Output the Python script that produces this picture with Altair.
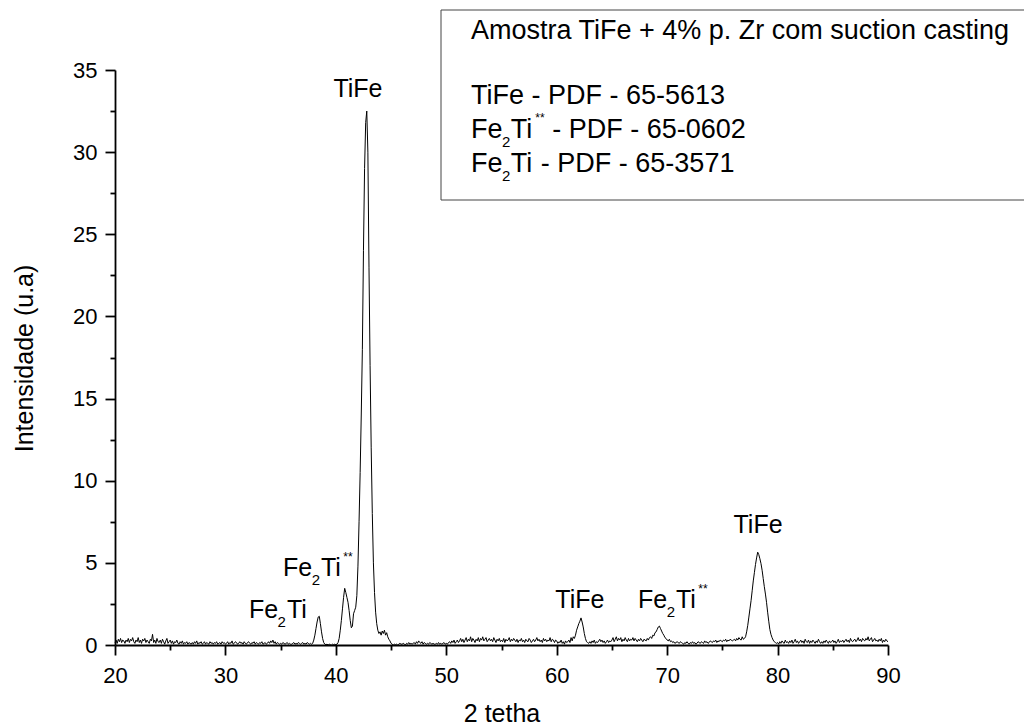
import altair as alt
import numpy as np
import pandas as pd

# ---------------- data ----------------
X_START = 20.0
X_STEP = 0.1
intensity = [
    0.15, 0.30, 0.10, 0.35, 0.20, 0.40, 0.15, 0.30, 0.25, 0.10,  # 20
    0.30, 0.20, 0.40, 0.15, 0.35, 0.25, 0.45, 0.20, 0.10, 0.30,  # 21
    0.20, 0.45, 0.15, 0.30, 0.10, 0.35, 0.25, 0.40, 0.15, 0.30,  # 22
    0.20, 0.10, 0.35, 0.25, 0.65, 0.15, 0.30, 0.10, 0.40, 0.20,  # 23
    0.15, 0.30, 0.10, 0.35, 0.20, 0.05, 0.25, 0.40, 0.10, 0.20,  # 24
    0.30, 0.10, 0.25, 0.05, 0.20, 0.15, 0.30, 0.10, 0.05, 0.20,  # 25
    0.10, 0.25, 0.05, 0.15, 0.10, 0.20, 0.05, 0.15, 0.10, 0.05,  # 26
    0.15, 0.05, 0.20, 0.10, 0.25, 0.05, 0.15, 0.10, 0.20, 0.05,  # 27
    0.10, 0.20, 0.05, 0.15, 0.10, 0.05, 0.20, 0.10, 0.15, 0.05,  # 28
    0.15, 0.10, 0.20, 0.05, 0.10, 0.15, 0.05, 0.20, 0.10, 0.15,  # 29
    0.05, 0.10, 0.20, 0.05, 0.15, 0.10, 0.25, 0.05, 0.10, 0.20,  # 30
    0.15, 0.05, 0.10, 0.20, 0.10, 0.15, 0.05, 0.20, 0.10, 0.05,  # 31
    0.15, 0.20, 0.10, 0.05, 0.15, 0.10, 0.20, 0.05, 0.15, 0.10,  # 32
    0.05, 0.15, 0.10, 0.20, 0.05, 0.10, 0.15, 0.05, 0.10, 0.20,  # 33
    0.10, 0.25, 0.15, 0.30, 0.10, 0.20, 0.05, 0.15, 0.10, 0.05,  # 34
    0.10, 0.05, 0.15, 0.10, 0.05, 0.10, 0.15, 0.05, 0.10, 0.05,  # 35
    0.05, 0.10, 0.15, 0.05, 0.10, 0.05, 0.15, 0.10, 0.05, 0.10,  # 36
    0.15, 0.05, 0.10, 0.05, 0.15, 0.10, 0.05, 0.10, 0.05, 0.10,  # 37
    0.30, 0.60, 1.00, 1.40, 1.70, 1.75, 1.30, 0.80, 0.40, 0.15,  # 38
    0.05, 0.02, 0.05, 0.00, 0.05, 0.02, 0.00, 0.05, 0.02, 0.05,  # 39
    0.02, 0.05, 0.15, 0.40, 0.90, 1.50, 2.20, 2.90, 3.45, 3.20,  # 40
    2.90, 2.60, 2.10, 1.50, 1.05, 1.15, 1.90, 2.10, 2.30, 3.00,  # 41
    4.80, 7.50, 10.5, 14.0, 18.0, 24.0, 29.0, 31.8, 32.5, 30.0,  # 42
    23.0, 17.0, 12.0, 8.00, 5.00, 3.20, 2.00, 1.30, 0.90, 0.70,  # 43
    0.80, 0.60, 0.85, 0.70, 0.90, 0.60, 0.75, 0.50, 0.35, 0.25,  # 44
    0.10, 0.05, 0.00, 0.05, 0.02, 0.05, 0.00, 0.05, 0.10, 0.05,  # 45
    0.05, 0.10, 0.05, 0.00, 0.10, 0.05, 0.15, 0.05, 0.10, 0.05,  # 46
    0.10, 0.15, 0.05, 0.20, 0.10, 0.25, 0.15, 0.10, 0.20, 0.05,  # 47
    0.15, 0.10, 0.05, 0.10, 0.05, 0.15, 0.10, 0.05, 0.10, 0.05,  # 48
    0.05, 0.10, 0.05, 0.15, 0.05, 0.10, 0.05, 0.10, 0.15, 0.05,  # 49
    0.10, 0.05, 0.15, 0.20, 0.10, 0.25, 0.15, 0.30, 0.10, 0.20,  # 50
    0.30, 0.15, 0.25, 0.40, 0.20, 0.35, 0.15, 0.30, 0.45, 0.20,  # 51
    0.35, 0.25, 0.50, 0.20, 0.40, 0.30, 0.15, 0.35, 0.25, 0.45,  # 52
    0.20, 0.40, 0.30, 0.50, 0.25, 0.35, 0.45, 0.20, 0.30, 0.40,  # 53
    0.25, 0.35, 0.20, 0.45, 0.30, 0.15, 0.35, 0.25, 0.40, 0.20,  # 54
    0.30, 0.20, 0.40, 0.15, 0.35, 0.25, 0.30, 0.45, 0.20, 0.35,  # 55
    0.25, 0.40, 0.30, 0.20, 0.35, 0.15, 0.30, 0.25, 0.40, 0.20,  # 56
    0.30, 0.15, 0.35, 0.25, 0.20, 0.40, 0.30, 0.15, 0.25, 0.35,  # 57
    0.20, 0.30, 0.45, 0.25, 0.35, 0.20, 0.30, 0.15, 0.40, 0.25,  # 58
    0.35, 0.20, 0.30, 0.25, 0.45, 0.20, 0.35, 0.30, 0.15, 0.30,  # 59
    0.25, 0.10, 0.20, 0.15, 0.30, 0.10, 0.20, 0.05, 0.25, 0.15,  # 60
    0.20, 0.30, 0.15, 0.45, 0.25, 0.50, 0.40, 0.60, 0.90, 1.10,  # 61
    1.30, 1.45, 1.65, 1.40, 1.10, 0.70, 0.40, 0.20, 0.15, 0.10,  # 62
    0.20, 0.10, 0.25, 0.15, 0.30, 0.10, 0.20, 0.15, 0.25, 0.35,  # 63
    0.20, 0.30, 0.15, 0.25, 0.10, 0.20, 0.30, 0.15, 0.25, 0.20,  # 64
    0.30, 0.45, 0.20, 0.35, 0.50, 0.25, 0.40, 0.30, 0.45, 0.20,  # 65
    0.35, 0.25, 0.45, 0.30, 0.20, 0.40, 0.25, 0.35, 0.30, 0.45,  # 66
    0.25, 0.40, 0.30, 0.20, 0.35, 0.25, 0.40, 0.30, 0.20, 0.35,  # 67
    0.30, 0.25, 0.40, 0.30, 0.45, 0.50, 0.40, 0.60, 0.55, 0.75,  # 68
    0.80, 0.95, 1.10, 1.15, 1.00, 0.85, 0.70, 0.60, 0.45, 0.40,  # 69
    0.30, 0.25, 0.35, 0.20, 0.25, 0.15, 0.20, 0.10, 0.15, 0.20,  # 70
    0.15, 0.10, 0.20, 0.15, 0.10, 0.05, 0.15, 0.10, 0.20, 0.10,  # 71
    0.05, 0.15, 0.10, 0.20, 0.10, 0.15, 0.05, 0.10, 0.20, 0.15,  # 72
    0.10, 0.20, 0.15, 0.10, 0.25, 0.15, 0.20, 0.10, 0.15, 0.25,  # 73
    0.20, 0.15, 0.25, 0.20, 0.30, 0.15, 0.25, 0.20, 0.30, 0.25,  # 74
    0.20, 0.30, 0.25, 0.35, 0.20, 0.30, 0.25, 0.35, 0.30, 0.25,  # 75
    0.30, 0.35, 0.25, 0.40, 0.30, 0.45, 0.35, 0.30, 0.50, 0.35,  # 76
    0.40, 0.50, 0.80, 1.20, 1.70, 2.20, 2.70, 3.30, 3.90, 4.40,  # 77
    4.90, 5.30, 5.65, 5.50, 5.25, 4.95, 4.55, 4.05, 3.55, 3.10,  # 78
    2.60, 2.00, 1.45, 0.95, 0.65, 0.45, 0.30, 0.20, 0.15, 0.10,  # 79
    0.15, 0.05, 0.20, 0.10, 0.25, 0.15, 0.10, 0.30, 0.15, 0.20,  # 80
    0.10, 0.25, 0.15, 0.30, 0.10, 0.20, 0.35, 0.15, 0.25, 0.10,  # 81
    0.20, 0.30, 0.15, 0.25, 0.10, 0.35, 0.20, 0.15, 0.30, 0.10,  # 82
    0.25, 0.15, 0.30, 0.20, 0.10, 0.25, 0.15, 0.35, 0.20, 0.10,  # 83
    0.20, 0.10, 0.25, 0.15, 0.30, 0.20, 0.10, 0.25, 0.15, 0.20,  # 84
    0.30, 0.15, 0.25, 0.10, 0.20, 0.35, 0.15, 0.25, 0.20, 0.30,  # 85
    0.15, 0.25, 0.35, 0.20, 0.30, 0.15, 0.40, 0.25, 0.20, 0.30,  # 86
    0.35, 0.20, 0.30, 0.45, 0.25, 0.35, 0.20, 0.40, 0.30, 0.25,  # 87
    0.40, 0.30, 0.50, 0.25, 0.35, 0.45, 0.20, 0.30, 0.40, 0.25,  # 88
    0.30, 0.20, 0.35, 0.25, 0.40, 0.15, 0.30, 0.20, 0.35, 0.25,  # 89
    0.20,                                                        # 90
]
two_theta = np.round(X_START + X_STEP * np.arange(len(intensity)), 2)

x_major_ticks = [20, 30, 40, 50, 60, 70, 80, 90]
x_minor_ticks = [25, 35, 45, 55, 65, 75, 85]
y_major_ticks = [0, 5, 10, 15, 20, 25, 30, 35]
y_minor_ticks = [2.5, 7.5, 12.5, 17.5, 22.5, 27.5, 32.5]

# peak labels (2theta, intensity of text baseline)
tife_label_x = [42.0, 62.1, 78.23]
tife_label_y = [33.35, 2.25, 6.82]
fe2ti_label_x = [32.13, 35.21, 67.36]
fe2ti_label_y = [1.64, 4.2, 2.25]
fe2ti_label_star = [False, True, True]

legend_title = "Amostra TiFe + 4% p. Zr com suction casting"
legend_codes = ["65-5613", "65-0602", "65-3571"]

x_title = "2 tetha"
y_title = "Intensidade (u.a)"

# ---------------- layout ----------------
FONT = "Liberation Sans"
W, H = 773, 575
PAD = {"left": 115, "top": 70, "right": 136, "bottom": 82}
LAB = 25       # peak label font size
LEG = 27       # legend font size
SUB = 15       # subscript size
SUP = 12       # superscript size

ARIAL = {"F": 611, "e": 556, "T": 611, "i": 222, "*": 389, " ": 278, "-": 333,
         "P": 667, "D": 722}


def width(text, size):
    return sum(ARIAL.get(c, 556) for c in text) / 1000.0 * size


df = pd.DataFrame({"two_theta": two_theta, "intensity": intensity})
xs = alt.Scale(domain=[20, 90], nice=False, zero=False)
ys = alt.Scale(domain=[0, 35], nice=False, zero=False)

major_x = alt.Axis(values=x_major_ticks, orient="bottom", tickSize=10, labelPadding=27,
                   labelBaseline="alphabetic", labelFontSize=22, labelFlush=False,
                   labelOverlap=False, title=x_title, titleFontSize=25,
                   titleX=W / 2, titleY=76, titleBaseline="alphabetic",
                   titleAlign="center", grid=False)
major_y = alt.Axis(values=y_major_ticks, orient="left", tickSize=10, labelPadding=8,
                   labelFontSize=22, labelFlush=False, labelOverlap=False,
                   title=y_title, titleFontSize=25, titleX=-83, titleY=288,
                   titleAngle=270, titleBaseline="alphabetic", titleAlign="center",
                   grid=False)
minor_x = alt.Axis(values=x_minor_ticks, orient="bottom", tickSize=5, labels=False,
                   domain=False, title=None, grid=False)
minor_y = alt.Axis(values=y_minor_ticks, orient="left", tickSize=5, labels=False,
                   domain=False, title=None, grid=False)

line = alt.Chart(df).mark_line(color="black", strokeWidth=1).encode(
    x=alt.X("two_theta:Q", scale=xs, axis=major_x),
    y=alt.Y("intensity:Q", scale=ys, axis=major_y),
)
minor = alt.Chart(df).mark_line(strokeOpacity=0).encode(
    x=alt.X("two_theta:Q", scale=xs, axis=minor_x),
    y=alt.Y("intensity:Q", scale=ys, axis=minor_y),
)

layers = [line, minor]

# TiFe peak labels
tife_df = pd.DataFrame({"x": tife_label_x, "y": tife_label_y})
layers.append(
    alt.Chart(tife_df).mark_text(font=FONT, fontSize=LAB, align="center",
                                 baseline="alphabetic", color="black").encode(
        x=alt.X("x:Q", axis=None), y=alt.Y("y:Q", axis=None), text=alt.value("TiFe"))
)

# Fe2Ti peak labels, built from parts
fe_df = pd.DataFrame({"x": fe2ti_label_x, "y": fe2ti_label_y, "star": fe2ti_label_star})
fe_w = width("Fe", LAB)
sub_w = width("2", SUB)
ti_w = width("Ti", LAB)
parts = [
    (fe_df, "Fe", LAB, 0, 0),
    (fe_df, "2", SUB, fe_w - 0.5, 9),
    (fe_df, "Ti", LAB, fe_w + sub_w + 0.5, 0),
    (fe_df[fe_df["star"]], "**", SUP, fe_w + sub_w + ti_w + 2, -15),
]
for data, t, s, dx, dy in parts:
    layers.append(
        alt.Chart(data).mark_text(font=FONT, fontSize=s, align="left",
                                  baseline="alphabetic", dx=dx, dy=dy,
                                  color="black").encode(
            x=alt.X("x:Q", axis=None), y=alt.Y("y:Q", axis=None), text=alt.value(t))
    )

# legend box
dummy = pd.DataFrame({"d": [0]})
layers.append(
    alt.Chart(dummy).mark_rect(fill="white", stroke="#444444", strokeWidth=1).encode(
        x=alt.value(326), x2=alt.value(940), y=alt.value(-60), y2=alt.value(130))
)

LX = 356
rows_y = [-31, 34, 68, 102]
leg_parts = [(LX, rows_y[0], legend_title, LEG, 0),
             (LX, rows_y[1], "TiFe - PDF - " + legend_codes[0], LEG, 0)]
for ri, star, code in [(2, True, legend_codes[1]), (3, False, legend_codes[2])]:
    x0 = LX
    yb = rows_y[ri]
    leg_parts.append((x0, yb, "Fe", LEG, 0))
    x0 += width("Fe", LEG) - 0.5
    leg_parts.append((x0, yb, "2", SUB, 9))
    x0 += width("2", SUB) + 0.5
    leg_parts.append((x0, yb, "Ti", LEG, 0))
    x0 += width("Ti", LEG)
    if star:
        leg_parts.append((x0 + 2, yb, "**", SUP, -16))
        x0 += 2 + width("**", SUP)
    x0 += width(" ", LEG)
    leg_parts.append((x0, yb, "- PDF - " + code, LEG, 0))

for px, py, t, s, dy in leg_parts:
    layers.append(
        alt.Chart(dummy).mark_text(font=FONT, fontSize=s, align="left",
                                   baseline="alphabetic", dy=dy, color="black").encode(
            x=alt.value(px), y=alt.value(py), text=alt.value(t))
    )

chart = alt.layer(*layers).resolve_axis(x="independent", y="independent").properties(
    width=W, height=H,
    autosize=alt.AutoSizeParams(type="none"),
    padding=PAD,
    background="white",
).configure_axis(
    domainColor="black", tickColor="black", labelColor="black", titleColor="black",
    labelFont=FONT, titleFont=FONT, titleFontWeight="normal",
    domainWidth=1.8, tickWidth=1.8,
).configure_view(stroke="transparent")

chart.save("out.html", embed_options={"renderer": "svg", "actions": False})
